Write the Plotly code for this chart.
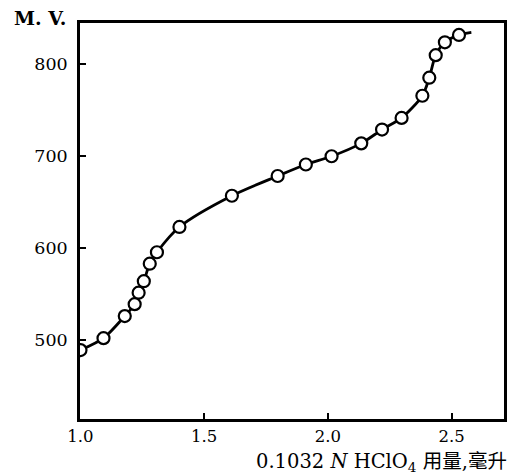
import plotly.graph_objects as go

# Titrant volume (ml) and potential (mV)
volume_ml = [1.000, 1.093, 1.179, 1.219, 1.235, 1.256, 1.280, 1.309, 1.400,
             1.612, 1.797, 1.911, 2.015, 2.135, 2.219, 2.298, 2.382, 2.410,
             2.436, 2.473, 2.530]
potential_mv = [489, 502, 526, 539, 551.5, 564, 583, 595.5, 623,
                657, 678.5, 691, 700, 714, 729, 741.7, 765.8, 785.5,
                810, 824, 832]
# the drawn curve continues slightly past the last measured point
curve_end_x = [2.580]
curve_end_y = [834.7]

x_ticks = [1.0, 1.5, 2.0, 2.5]
y_ticks = [500, 600, 700, 800]

FONT = "DejaVu Serif"

fig = go.Figure()
fig.add_trace(go.Scatter(
    x=volume_ml + curve_end_x, y=potential_mv + curve_end_y,
    mode="lines", line=dict(color="black", width=2.8, shape="spline", smoothing=0.8),
    hoverinfo="skip", showlegend=False))
fig.add_trace(go.Scatter(
    x=volume_ml, y=potential_mv, mode="markers",
    marker=dict(symbol="circle", size=12, color="white",
                line=dict(color="black", width=2.2)),
    showlegend=False))

fig.update_layout(
    width=515, height=476,
    margin=dict(l=80, r=11, t=23, b=57, autoexpand=False),
    paper_bgcolor="white", plot_bgcolor="white",
    font=dict(family=FONT, size=17, color="black"),
    xaxis=dict(range=[0.998, 2.712], tickvals=x_ticks, tickformat=".1f",
               ticks="inside", ticklen=6, tickwidth=2, tickcolor="black",
               showgrid=False, zeroline=False,
               showline=True, linewidth=2.6, linecolor="black", mirror=True,
               tickfont=dict(family=FONT, size=16.5)),
    yaxis=dict(range=[414, 845], tickvals=y_ticks,
               ticks="inside", ticklen=6, tickwidth=2, tickcolor="black",
               showgrid=False, zeroline=False,
               showline=True, linewidth=2.6, linecolor="black", mirror=True,
               ticklabelstandoff=6,
               tickfont=dict(family=FONT, size=17.5)),
    annotations=[
        dict(text="<b>M. V.</b>", xref="paper", yref="paper",
             x=-0.028, y=1.013, xanchor="right", yanchor="middle",
             showarrow=False, font=dict(family=FONT, size=19, color="black")),
        dict(text="0.1032 <i>N</i> HClO<sub>4</sub> 用量,毫升", xref="paper", yref="paper",
             x=1.012, y=-0.111, xanchor="right", yanchor="middle",
             showarrow=False,
             font=dict(family=FONT + ", Noto Sans CJK SC", size=19.5, color="black")),
    ],
)

fig.write_html("out.html",
               config={"displayModeBar": False},
               post_script="document.body.style.margin='0px';document.body.style.overflow='hidden';")
